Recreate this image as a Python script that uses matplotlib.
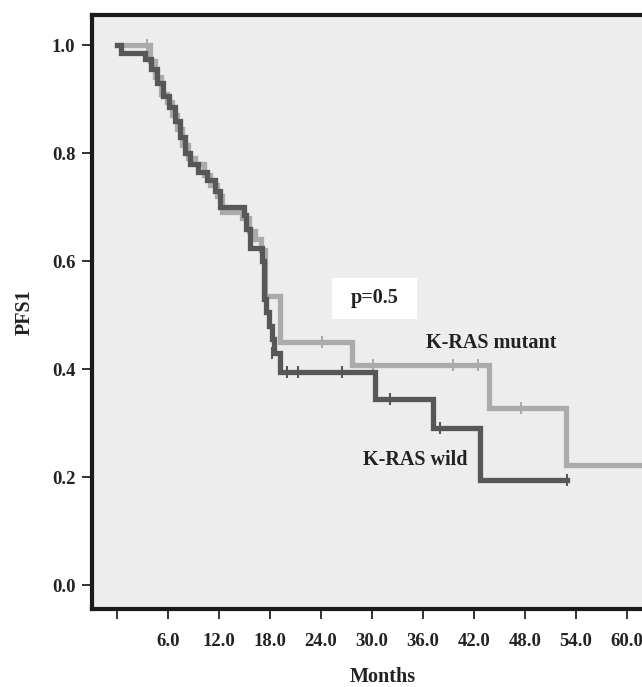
import matplotlib
matplotlib.use('Agg')
import matplotlib.pyplot as plt
from matplotlib.patches import Rectangle

plt.rcParams['font.family'] = ['Liberation Serif', 'DejaVu Serif']
plt.rcParams['font.weight'] = 'bold'

# K-RAS wild (dark) - step change points (months, PFS1)
wild_t = [0.0, 0.5, 3.3, 4.0, 4.7, 5.4, 6.1, 6.8, 7.4, 8.0, 8.6, 9.5, 10.6,
          11.5, 12.1, 14.9, 15.2, 15.6, 17.1, 17.3, 17.5, 17.9, 18.3, 18.5,
          19.2, 30.4, 37.2, 42.7, 52.9]
wild_s = [1.0, 0.985, 0.975, 0.955, 0.93, 0.905, 0.885, 0.86, 0.83, 0.80,
          0.78, 0.765, 0.75, 0.73, 0.70, 0.685, 0.66, 0.625, 0.60, 0.53,
          0.505, 0.48, 0.455, 0.43, 0.395, 0.345, 0.29, 0.195, 0.195]
wild_cens_t = [18.2, 20.0, 21.3, 26.5, 32.1, 38.0, 52.9]
wild_cens_s = [0.43, 0.395, 0.395, 0.395, 0.345, 0.29, 0.195]

# K-RAS mutant (light)
mut_t = [0.0, 3.9, 4.5, 5.2, 5.9, 6.5, 7.1, 7.6, 8.3, 9.2, 10.2, 11.0, 11.8,
         12.4, 14.7, 15.5, 16.2, 17.0, 17.4, 19.2, 27.6, 43.8, 52.8, 64.0]
mut_s = [1.0, 0.97, 0.94, 0.91, 0.895, 0.87, 0.845, 0.815, 0.79, 0.78, 0.76,
         0.74, 0.72, 0.69, 0.68, 0.655, 0.64, 0.62, 0.535, 0.45, 0.407, 0.328,
         0.222, 0.222]
mut_cens_t = [3.5, 24.1, 30.1, 39.5, 42.5, 47.6]
mut_cens_s = [1.0, 0.45, 0.407, 0.407, 0.407, 0.328]

xticks = [0, 6, 12, 18, 24, 30, 36, 42, 48, 54, 60]
xticklabels = ['', '6.0', '12.0', '18.0', '24.0', '30.0', '36.0', '42.0',
               '48.0', '54.0', '60.0']
yticks = [0.0, 0.2, 0.4, 0.6, 0.8, 1.0]

light = '#ababab'
dark = '#575757'
fs = 14.5

fig = plt.figure(figsize=(6.42, 6.87), dpi=100)
ax = fig.add_axes([92 / 642, 78 / 687, 568 / 642, 594 / 687])
ax.set_facecolor('#ededed')

ax.step(mut_t, mut_s, where='post', color=light, lw=3.8, solid_joinstyle='miter')
ax.plot(mut_cens_t, mut_cens_s, ls='none', marker='|', ms=8, mew=1.5, color=light)
ax.step(wild_t, wild_s, where='post', color=dark, lw=3.8, solid_joinstyle='miter')
ax.plot(wild_cens_t, wild_cens_s, ls='none', marker='|', ms=8, mew=1.5, color=dark)

ax.set_xlim(-2.94, 63.9)
ax.set_ylim(-0.0444, 1.0556)
ax.set_xticks(xticks)
ax.set_xticklabels(xticklabels)
ax.set_yticks(yticks)
ax.set_yticklabels(['%.1f' % v for v in yticks])
ax.tick_params(axis='both', direction='out', length=7, width=1.3,
               labelsize=13.5, color='#222222', labelcolor='#222222')
ax.tick_params(axis='x', pad=10)
ax.tick_params(axis='y', pad=5)
for s in ax.spines.values():
    s.set_linewidth(3)
    s.set_color('#1a1a1a')

# p-value box
ax.add_patch(Rectangle((25.3, 0.493), 10.0, 0.075, facecolor='white',
                       edgecolor='none', zorder=3))
ax.text(30.3, 0.531, 'p=0.5', ha='center', va='center', fontsize=fs,
        fontweight='bold', color='#222222', zorder=4)
ax.text(44.1, 0.448, 'K-RAS mutant', ha='center', va='center', fontsize=fs,
        fontweight='bold', color='#222222')
ax.text(41.3, 0.232, 'K-RAS wild', ha='right', va='center', fontsize=fs,
        fontweight='bold', color='#222222')

ax.set_ylabel('PFS1', fontsize=fs, fontweight='bold', labelpad=12,
              color='#222222')
fig.text(383 / 642, 1 - 677 / 687, 'Months', ha='center', va='center',
         fontsize=fs, fontweight='bold', color='#222222')

fig.savefig('out.png', dpi=100)
